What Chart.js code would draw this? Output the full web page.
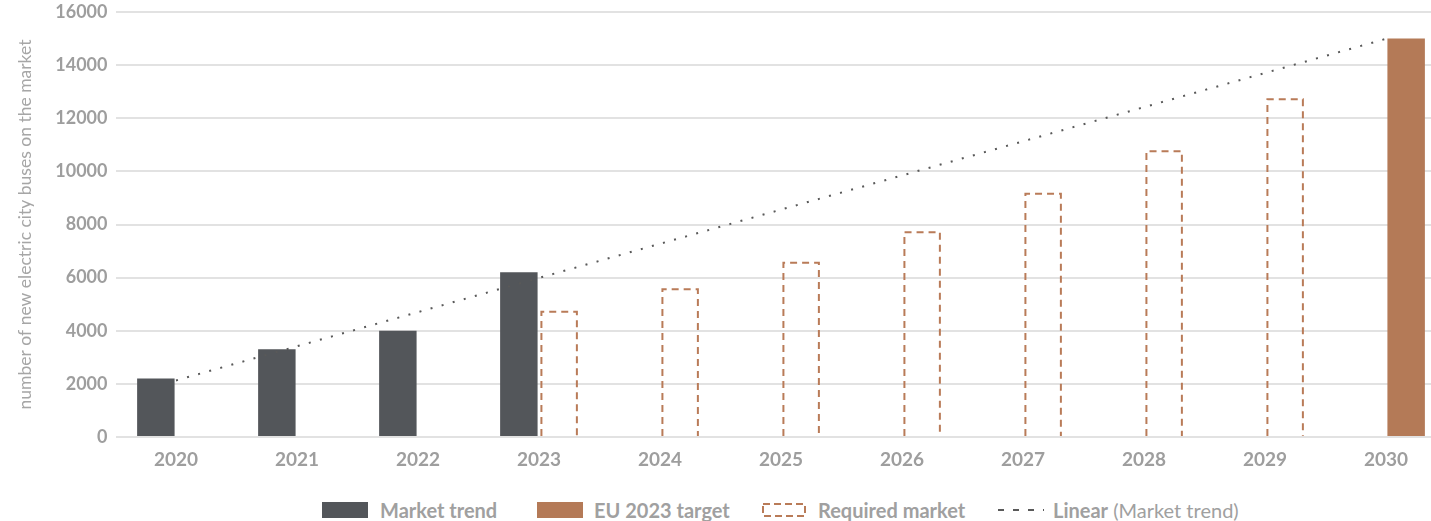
<!DOCTYPE html>
<html>
<head>
<meta charset="utf-8">
<title>Electric city buses</title>
<script src="https://cdn.jsdelivr.net/npm/chart.js@4.4.0/dist/chart.umd.min.js"></script>
<style>
    body { margin: 0; background: #fff; overflow: hidden; }
    #wrap { position: relative; width: 1431px; height: 521px; overflow: hidden; background: #fff; }
    #busChart { position: absolute; left: 0; top: 0; }
    .lg { position: absolute; font-family: Lato, sans-serif; font-size: 20px; line-height: 20px; color: #a0a0a0; white-space: nowrap; }
    .lg b { font-weight: 700; }
    .sw { position: absolute; top: 502px; width: 46px; height: 16px; }
</style>
</head>
<body>
<div id="wrap">
    <canvas id="busChart" width="1562" height="480"></canvas>

    <div class="sw" style="left:322px;background:#53565a;"></div>
    <div class="lg" style="left:380px;top:500px;"><b>Market trend</b></div>

    <div class="sw" style="left:537px;background:#b47a57;"></div>
    <div class="lg" style="left:594px;top:500px;"><b>EU 2023 target</b></div>

    <svg class="sw" style="left:761px;" width="46" height="16">
        <rect x="2" y="2" width="42" height="12" fill="none" stroke="#b97b58" stroke-width="2" stroke-dasharray="7 4"></rect>
    </svg>
    <div class="lg" style="left:818px;top:500px;"><b>Required market</b></div>

    <svg class="sw" style="left:998px;" width="52" height="16">
        <line x1="0" y1="8" x2="52" y2="8" stroke="#595959" stroke-width="2" stroke-dasharray="6 9"></line>
    </svg>
    <div class="lg" style="left:1053px;top:500px;"><b>Linear</b> (Market trend)</div>
</div>

<script>
// values
const years = ['2020', '2021', '2022', '2023', '2024', '2025', '2026', '2027', '2028', '2029', '2030'];
const marketTrend = [2200, 3300, 4000, 6200, null, null, null, null, null, null, null];
const requiredMarket = [null, null, null, 4750, 5600, 6600, 7750, 9200, 10800, 12750, null];
const euTarget = [null, null, null, null, null, null, null, null, null, null, 15000];
const linearTrend = [2130, null, null, null, null, null, null, null, null, null, 14990];
const yMax = 16000;
const yStep = 2000;

const greyText = '#9e9e9e';

// bars can't have a dashed outline, so stroke it ourselves at the bar elements
const dashedBars = {
    id: 'dashedBars',
    afterDatasetDraw(chart, args) {
        if (args.index !== 1) return;
        const ctx = chart.ctx;
        const meta = chart.getDatasetMeta(1);
        ctx.save();
        ctx.strokeStyle = '#b97b58';
        ctx.lineWidth = 2;
        ctx.setLineDash([7, 5]);
        meta.data.forEach(function (bar, i) {
            if (requiredMarket[i] === null) return;
            const p = bar.getProps(['x', 'y', 'base', 'width'], true);
            const l = p.x - p.width / 2 + 1;
            const r = p.x + p.width / 2 - 1;
            ctx.beginPath();
            ctx.moveTo(l, p.base);
            ctx.lineTo(l, p.y + 1);
            ctx.lineTo(r, p.y + 1);
            ctx.lineTo(r, p.base);
            ctx.stroke();
        });
        ctx.restore();
    }
};

function drawChart() {
    const ctx = document.getElementById('busChart');
    new Chart(ctx, {
        type: 'bar',
        data: {
            labels: years,
            datasets: [{
                label: 'Market trend',
                data: marketTrend,
                backgroundColor: '#53565a',
                stack: 'a',
                order: 1
            }, {
                label: 'Required market',
                data: requiredMarket,
                backgroundColor: 'rgba(0,0,0,0)',
                borderWidth: 0,
                stack: 'b',
                order: 1
            }, {
                label: 'EU 2023 target',
                data: euTarget,
                backgroundColor: '#b47a57',
                stack: 'b',
                order: 1
            }, {
                type: 'line',
                label: 'Linear (Market trend)',
                data: linearTrend,
                spanGaps: true,
                borderColor: '#595959',
                borderWidth: 2,
                borderDash: [2, 9.5],
                pointRadius: 0,
                fill: false,
                order: 0
            }]
        },
        options: {
            responsive: false,
            animation: false,
            categoryPercentage: 0.666,
            barPercentage: 0.93,
            layout: {
                padding: { top: 12, right: 115.5, left: 0, bottom: 0 }
            },
            plugins: {
                legend: { display: false },
                tooltip: { enabled: false }
            },
            scales: {
                x: {
                    stacked: true,
                    grid: { display: false, drawTicks: false },
                    border: { display: false },
                    ticks: {
                        color: greyText,
                        padding: 11,
                        font: { family: 'Lato', size: 19, weight: 'bold' }
                    },
                    afterFit: function (scale) { scale.height = 43; }
                },
                y: {
                    stacked: true,
                    min: 0,
                    max: yMax,
                    grid: { color: '#e2e2e2', lineWidth: 2, drawTicks: false },
                    border: { display: false },
                    ticks: {
                        stepSize: yStep,
                        color: greyText,
                        padding: 8,
                        font: { family: 'Lato', size: 18, weight: 'bold' },
                        callback: function (v) { return String(v); }
                    },
                    title: {
                        display: true,
                        text: 'number of new electric city buses on the market',
                        color: '#a6a6a6',
                        padding: { top: 15, bottom: 0 },
                        font: { family: 'Lato', size: 17.5 }
                    },
                    afterFit: function (scale) {
                        scale.width = 115.5;
                        // let the layout padding alone decide the top edge
                        scale.paddingTop = 0;
                        scale.paddingBottom = 0;
                    }
                }
            }
        },
        plugins: [dashedBars]
    });
}
drawChart();
</script>
</body>
</html>
